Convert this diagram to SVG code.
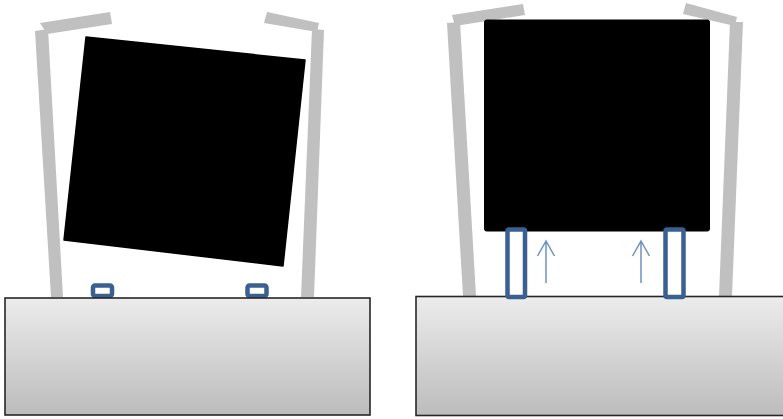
<svg xmlns="http://www.w3.org/2000/svg" width="783" height="419" viewBox="0 0 783 419">
<style>
.arm{fill:#c0c0c0}
.base{fill:url(#g);stroke:#262626;stroke-width:1.6}
.clip{fill:#fff;stroke:#3a6092;stroke-width:4.500}
.slot{fill:none;stroke:#3a6092;stroke-width:4.500}
.up{fill:none;stroke:#6f93bd;stroke-width:1.500}
</style>
<defs>
<linearGradient id="g" x1="0" y1="0" x2="0" y2="1">
<stop offset="0" stop-color="#ececec"/>
<stop offset="1" stop-color="#bcbcbc"/>
</linearGradient>
</defs>
<rect width="783" height="419" fill="#fff"/>
<g id="left-assembly">
<polygon class="arm" points="35,31 48,29 63,297 51,297"/>
<polygon class="arm" points="40,23 110,12 112,24 47,34"/>
<polygon class="arm" points="312,29 324,30 314,297 301,297"/>
<polygon class="arm" points="267,12 319,23 317,32 264,23"/>
<polygon points="86,37 305,60 283,266 64,240" fill="#000" stroke="#000" stroke-width="1.500" stroke-linejoin="round"/>
<rect class="clip" x="93" y="285.500" width="19" height="10.500" rx="2"/>
<rect class="clip" x="247.500" y="285.500" width="19" height="10.500" rx="2"/>
<rect class="base" x="5" y="298" width="365" height="117"/>
</g>
<g id="right-assembly">
<polygon class="arm" points="447,23 460,22 476,296 463,296"/>
<polygon class="arm" points="452,15 523,4 525,15 455,26"/>
<polygon class="arm" points="730,22 743,22 732,296 719,296"/>
<polygon class="arm" points="686,3 737,17 735,26 683,14"/>
<rect x="484.500" y="20" width="225" height="211" rx="2" fill="#000" stroke="#000"/>
<rect class="base" x="416" y="296.500" width="375" height="119"/>
<rect class="clip" x="507.500" y="229.500" width="17.500" height="67.500" rx="1.500"/>
<rect class="clip" x="665.500" y="229.500" width="18" height="67.500" rx="1.500"/>
</g>
<g id="connectors">
<path class="up" d="M546 283V241M537.500 256L546 241L554.500 256"/>
<path class="up" d="M641 283V241M632.500 256L641 241L649.500 256"/>
</g>
</svg>
